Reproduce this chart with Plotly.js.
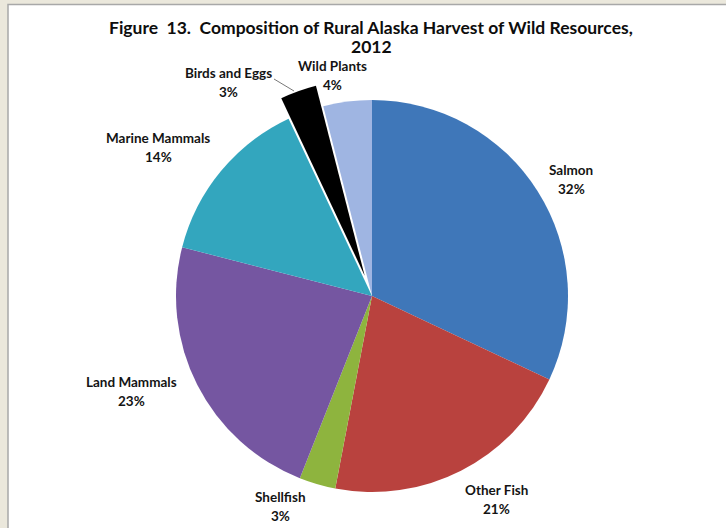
<!DOCTYPE html>
<html>
<head>
<meta charset="utf-8">
<script src="https://cdn.plot.ly/plotly-3.0.1.min.js"></script>
<style>
  html, body { margin: 0; padding: 0; background: #ebe8dc; }
  #chart { width: 726px; height: 528px; }
</style>
</head>
<body>
<div id="chart"></div>
<script>
// ---- data ----
var categories = ["Salmon", "Other Fish", "Shellfish", "Land Mammals", "Marine Mammals", "Birds and Eggs", "Wild Plants"];
var shares = [32, 21, 3, 23, 14, 3, 4];
var sliceColors = ["#3f77b9", "#b9423e", "#8eb43e", "#7556a1", "#33a6be", "#000000", "#9fb5e2"];
var pulls = [0, 0, 0, 0, 0, 0.11, 0];
var titleLines = ["Figure  13.  Composition of Rural Alaska Harvest of Wild Resources,", "2012"];

// ---- layout helpers (label placement, in pixels) ----
var W = 726, H = 528;
var labelPos = [
  [571, 170],  // Salmon
  [496, 490],  // Other Fish
  [280, 497],  // Shellfish
  [131, 382],  // Land Mammals
  [158, 138],  // Marine Mammals
  [228, 73],   // Birds and Eggs
  [332, 66]    // Wild Plants
];
function px(x) { return x / W; }
function py(y) { return 1 - y / H; }

var total = shares.reduce(function (a, b) { return a + b; }, 0);
var annotations = [];
var lblFont = { family: "Lato, 'Open Sans', sans-serif", size: 13.5, color: "#141414", weight: "bold" };
categories.forEach(function (c, i) {
  annotations.push({
    xref: "paper", yref: "paper", x: px(labelPos[i][0]), y: py(labelPos[i][1]),
    text: c, showarrow: false, font: lblFont, xanchor: "center", yanchor: "middle"
  });
  annotations.push({
    xref: "paper", yref: "paper", x: px(labelPos[i][0]), y: py(labelPos[i][1] + 19),
    text: Math.round(shares[i] / total * 100) + "%", showarrow: false, font: lblFont,
    xanchor: "center", yanchor: "middle"
  });
});
var titleFont = { family: "Lato, 'Open Sans', sans-serif", size: 17.5, color: "#0d0d0d", weight: "bold" };
titleLines.forEach(function (t, i) {
  annotations.push({
    xref: "paper", yref: "paper", x: px(371), y: py(27 + 20 * i),
    text: t, showarrow: false, font: titleFont, xanchor: "center", yanchor: "middle"
  });
});

var cx = 372, cy = 296, R = 196, maxPull = 0.11;
var half = R * (1 + maxPull);

var trace = {
  type: "pie",
  labels: categories,
  values: shares,
  sort: false,
  direction: "clockwise",
  rotation: 0,
  pull: pulls,
  marker: { colors: sliceColors, line: { color: "#ffffff", width: 0 } },
  textinfo: "none",
  hoverinfo: "label+percent",
  automargin: false,
  domain: { x: [px(cx - half), px(cx + half)], y: [py(cy + half), py(cy - half)] }
};

var layout = {
  width: W, height: H,
  margin: { l: 0, r: 0, t: 0, b: 0 },
  paper_bgcolor: "#ebe8dc",
  showlegend: false,
  shapes: [
    { type: "rect", xref: "paper", yref: "paper", layer: "below",
      x0: px(8), x1: px(730), y0: py(531), y1: py(4.5),
      fillcolor: "#ffffff", line: { color: "#a8a8a8", width: 1.5 } },
    { type: "line", xref: "paper", yref: "paper", layer: "above",
      x0: px(274), y0: py(79), x1: px(294), y1: py(91),
      line: { color: "#555555", width: 0.8 } }
  ],
  annotations: annotations
};

Plotly.newPlot("chart", [trace], layout, { displayModeBar: false, staticPlot: true });
</script>
</body>
</html>
